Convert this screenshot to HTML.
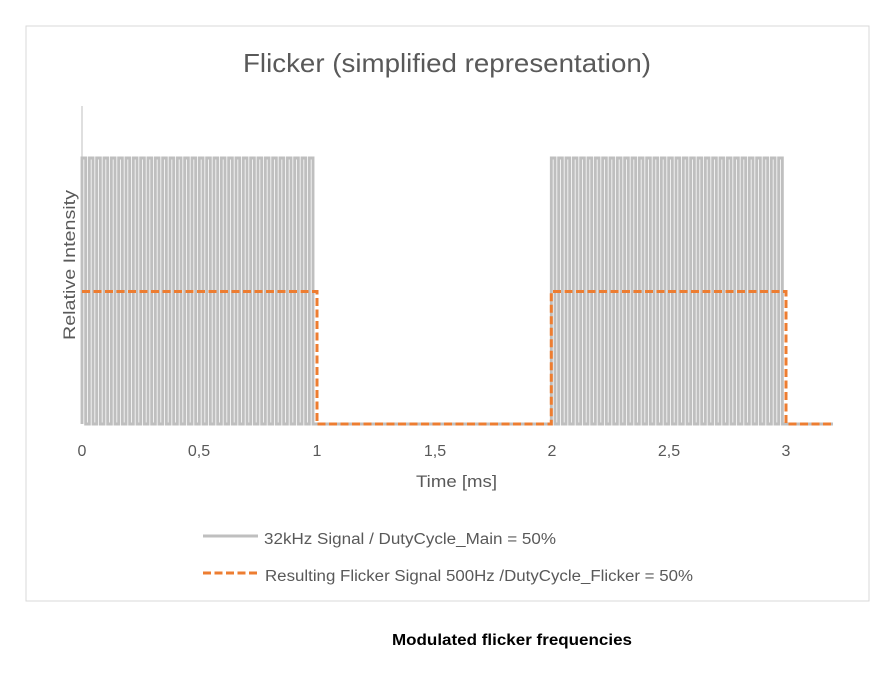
<!DOCTYPE html>
<html>
<head>
<meta charset="utf-8">
<style>
  html,body{margin:0;padding:0;background:#fff;}
  svg{display:block;}
</style>
</head>
<body>
<svg width="879" height="676" viewBox="0 0 879 676" xmlns="http://www.w3.org/2000/svg">
  <rect x="0" y="0" width="879" height="676" fill="#fff"/>
  <!-- chart frame -->
  <rect x="26" y="26" width="843" height="575" fill="#fff" stroke="#d9d9d9" stroke-width="1"/>

  <!-- title -->
  <text x="243" y="72" font-family="Liberation Sans, sans-serif" font-size="26" fill="#595959" textLength="408" lengthAdjust="spacingAndGlyphs">Flicker (simplified representation)</text>

  <!-- thin vertical line at origin -->
  <line x1="82" y1="106" x2="82" y2="424" stroke="#bfbfbf" stroke-width="1"/>

  <!-- 32kHz gray signal -->
  <path fill="none" stroke="#bfbfbf" stroke-width="2.9" stroke-linejoin="miter" d="
M82,424 V158 H85.67 V424 H89.33 V158 H93 V424 H96.67 V158 H100.33 V424 H104 V158 H107.67 V424
H111.33 V158 H115 V424 H118.67 V158 H122.33 V424 H126 V158 H129.67 V424 H133.33 V158 H137 V424
H140.67 V158 H144.33 V424 H148 V158 H151.67 V424 H155.33 V158 H159 V424 H162.67 V158 H166.33 V424
H170 V158 H173.67 V424 H177.33 V158 H181 V424 H184.67 V158 H188.33 V424 H192 V158 H195.67 V424
H199.33 V158 H203 V424 H206.67 V158 H210.33 V424 H214 V158 H217.67 V424 H221.33 V158 H225 V424
H228.67 V158 H232.33 V424 H236 V158 H239.67 V424 H243.33 V158 H247 V424 H250.67 V158 H254.33 V424
H258 V158 H261.67 V424 H265.33 V158 H269 V424 H272.67 V158 H276.33 V424 H280 V158 H283.67 V424
H287.33 V158 H291 V424 H294.67 V158 H298.33 V424 H302 V158 H305.67 V424 H309.33 V158 H313 V424
H551.33 V158 H555 V424 H558.67 V158 H562.33 V424 H566 V158 H569.67 V424 H573.33 V158 H577 V424
H580.67 V158 H584.33 V424 H588 V158 H591.67 V424 H595.33 V158 H599 V424 H602.67 V158 H606.33 V424
H610 V158 H613.67 V424 H617.33 V158 H621 V424 H624.67 V158 H628.33 V424 H632 V158 H635.67 V424
H639.33 V158 H643 V424 H646.67 V158 H650.33 V424 H654 V158 H657.67 V424 H661.33 V158 H665 V424
H668.67 V158 H672.33 V424 H676 V158 H679.67 V424 H683.33 V158 H687 V424 H690.67 V158 H694.33 V424
H698 V158 H701.67 V424 H705.33 V158 H709 V424 H712.67 V158 H716.33 V424 H720 V158 H723.67 V424
H727.33 V158 H731 V424 H734.67 V158 H738.33 V424 H742 V158 H745.67 V424 H749.33 V158 H753 V424
H756.67 V158 H760.33 V424 H764 V158 H767.67 V424 H771.33 V158 H775 V424 H778.67 V158 H782.33 V424
H833"/>

  <!-- orange flicker dashed signal -->
  <path fill="none" stroke="#ed7d31" stroke-width="3" stroke-dasharray="8 3.5" stroke-linejoin="miter"
        d="M82,291.5 H317 V424 H551.3 V291.5 H786 V424 H834"/>

  <!-- x tick labels -->
  <g font-family="Liberation Sans, sans-serif" font-size="16" fill="#595959" text-anchor="middle">
    <text x="82" y="456">0</text>
    <text x="199" y="456">0,5</text>
    <text x="317" y="456">1</text>
    <text x="435" y="456">1,5</text>
    <text x="552" y="456">2</text>
    <text x="669" y="456">2,5</text>
    <text x="786" y="456">3</text>
  </g>

  <!-- axis titles -->
  <text x="416" y="487" font-family="Liberation Sans, sans-serif" font-size="17" fill="#595959" textLength="81" lengthAdjust="spacingAndGlyphs">Time [ms]</text>
  <text transform="translate(75,265) rotate(-90)" text-anchor="middle" font-family="Liberation Sans, sans-serif" font-size="17" fill="#595959" textLength="150" lengthAdjust="spacingAndGlyphs">Relative Intensity</text>

  <!-- legend -->
  <line x1="203" y1="536" x2="258" y2="536" stroke="#bfbfbf" stroke-width="3"/>
  <text x="264" y="544" font-family="Liberation Sans, sans-serif" font-size="15.5" fill="#595959" textLength="292" lengthAdjust="spacingAndGlyphs">32kHz Signal / DutyCycle_Main = 50%</text>
  <line x1="203" y1="573" x2="258" y2="573" stroke="#ed7d31" stroke-width="3" stroke-dasharray="8 3.5"/>
  <text x="265" y="581" font-family="Liberation Sans, sans-serif" font-size="15.5" fill="#595959" textLength="428" lengthAdjust="spacingAndGlyphs">Resulting Flicker Signal 500Hz /DutyCycle_Flicker = 50%</text>

  <!-- caption -->
  <text x="392" y="645" font-family="Liberation Sans, Arial, sans-serif" font-size="16" font-weight="bold" fill="#000" textLength="240" lengthAdjust="spacingAndGlyphs">Modulated flicker frequencies</text>
</svg>
</body>
</html>
